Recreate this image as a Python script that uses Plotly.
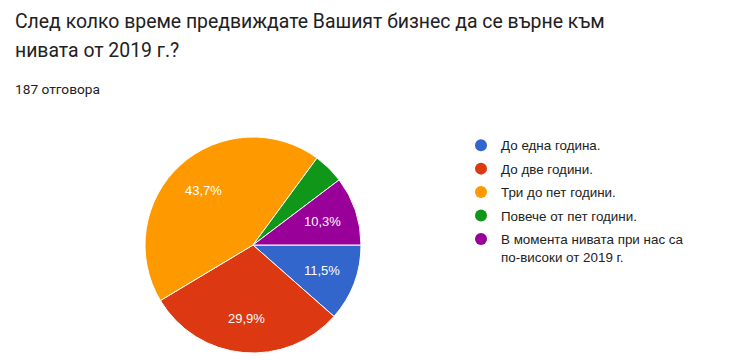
import math
import plotly.graph_objects as go

categories = [
    "До една година.",
    "До две години.",
    "Три до пет години.",
    "Повече от пет години.",
    "В момента нивата при нас са<br>по-високи от 2019 г.",
]
percent_values = [11.5, 29.9, 43.7, 4.6, 10.3]
colors = ["#3366CC", "#DC3912", "#FF9900", "#109618", "#990099"]

W, H = 740, 361
# pie geometry (pixels, top-left origin)
PX0, PX1, PY0, PY1 = 145, 361, 137, 353
CX, CY = (PX0 + PX1) / 2, (PY0 + PY1) / 2
R = (PX1 - PX0) / 2

fig = go.Figure()
fig.add_trace(go.Pie(
    values=percent_values,
    labels=categories,
    textinfo="none",
    marker=dict(colors=colors, line=dict(color="white", width=1)),
    sort=False,
    direction="clockwise",
    rotation=90,
    showlegend=False,
    hoverinfo="label+percent",
    domain=dict(x=[PX0 / W, PX1 / W], y=[(H - PY1) / H, (H - PY0) / H]),
))

for i, (cat, col) in enumerate(zip(categories, colors)):
    fig.add_trace(go.Scatter(
        x=[None], y=[None], mode="markers",
        marker=dict(color=col, size=13, symbol="circle"),
        name=cat, legendgroup=f"g{i}", showlegend=True,
    ))

# slice labels positioned along each slice's bisector
annotations = []
total = sum(percent_values)
cum = 0.0
for v in percent_values:
    mid = (cum + v / 2) / total * 2 * math.pi  # clockwise from 3 o'clock
    cum += v
    if v < 5:
        continue
    rr = 0.68 * R
    px = CX + rr * math.cos(mid)
    py = CY + rr * math.sin(mid)
    annotations.append(dict(
        text=f"{v:.1f}".replace(".", ",") + "%",
        x=px / W, y=1 - py / H, xref="paper", yref="paper",
        xanchor="center", yanchor="middle", showarrow=False,
        font=dict(family="Arial", size=13, color="white"),
    ))

title_lines = [
    "След колко време предвиждате Вашият бизнес да се върне към",
    "нивата от 2019 г.?",
]
for j, line in enumerate(title_lines):
    annotations.append(dict(
        text=line, x=13 / W, y=1 - (21 + 30 * j) / H,
        xref="paper", yref="paper", xanchor="left", yanchor="middle",
        showarrow=False,
        font=dict(family="Roboto, Arial", size=19.4, color="#202124"),
    ))
annotations.append(dict(
    text="187 отговора",
    x=13 / W, y=1 - 89 / H, xref="paper", yref="paper",
    xanchor="left", yanchor="middle", showarrow=False,
    font=dict(family="Roboto, Arial", size=13.7, color="#202124"),
))

fig.update_layout(
    width=W, height=H,
    margin=dict(l=0, r=0, t=0, b=0),
    paper_bgcolor="white",
    plot_bgcolor="white",
    xaxis=dict(visible=False),
    yaxis=dict(visible=False),
    font=dict(family="Roboto, Arial", color="#202124"),
    legend=dict(
        x=461 / W, xanchor="left",
        y=(H - 130) / H, yanchor="top",
        font=dict(family="Arial", size=13.4, color="#222222"),
        valign="top",
        tracegroupgap=3,
        itemsizing="constant",
        bgcolor="rgba(0,0,0,0)",
    ),
    annotations=annotations,
)

fig.write_html(
    "out.html",
    config={"displayModeBar": False},
    post_script="document.body.style.margin='0';",
)
